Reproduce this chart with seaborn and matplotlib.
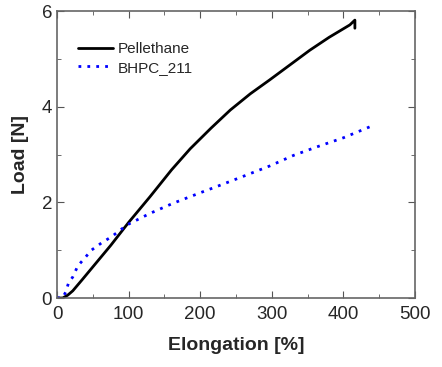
import numpy as np
import pandas as pd
import seaborn as sns
import matplotlib.pyplot as plt
from matplotlib.ticker import MultipleLocator

# data
pel_x = [0, 8, 15, 22, 35, 50, 75, 100, 130, 160, 186, 215, 242, 270, 297, 325, 353, 380, 409, 416, 416]
pel_y = [0, 0, 0.06, 0.15, 0.38, 0.65, 1.1, 1.58, 2.12, 2.68, 3.12, 3.55, 3.93, 4.27, 4.56, 4.87, 5.18, 5.45, 5.71, 5.81, 5.64]
bhpc_x = [0, 8, 12, 16, 22, 29, 39, 48, 62, 76, 98, 130, 162, 200, 230, 256, 297, 330, 363, 400, 437, 442]
bhpc_y = [0, 0.01, 0.12, 0.31, 0.44, 0.67, 0.84, 1.0, 1.15, 1.28, 1.53, 1.77, 1.98, 2.2, 2.37, 2.52, 2.76, 2.98, 3.16, 3.35, 3.58, 3.58]

sns.set_style("ticks")
plt.rcParams['font.family'] = ['Liberation Sans', 'DejaVu Sans']

fig = plt.figure(figsize=(4.42, 3.67), dpi=100)
ax = fig.add_axes([0.129, 0.188, 0.810, 0.782])

sns.lineplot(x=pel_x, y=pel_y, ax=ax, color='black', linewidth=2, sort=False,
             estimator=None, label='Pellethane')
sns.lineplot(x=bhpc_x, y=bhpc_y, ax=ax, color='blue', linewidth=2, linestyle=(0, (1, 2.2)),
             sort=False, estimator=None, label='BHPC_211')

ax.set_xlim(0, 500)
ax.set_ylim(0, 6)
ax.xaxis.set_major_locator(MultipleLocator(100))
ax.xaxis.set_minor_locator(MultipleLocator(50))
ax.yaxis.set_major_locator(MultipleLocator(2))
ax.yaxis.set_minor_locator(MultipleLocator(1))
ax.tick_params(which='both', direction='in', top=True, right=True, labelsize=13.5, color='#555555')
ax.tick_params(axis='x', pad=6)
ax.tick_params(which='major', length=5)
ax.tick_params(which='minor', length=3)
for s in ax.spines.values():
    s.set_color('#666666')
    s.set_linewidth(1.2)

ax.set_xlabel('Elongation [%]', fontsize=14, fontweight='bold', labelpad=10)
ax.set_ylabel('Load [N]', fontsize=14, fontweight='bold', labelpad=9)
ax.legend(loc='upper left', frameon=False, fontsize=11, handlelength=2.3, handletextpad=0.3,
          bbox_to_anchor=(0.02, 0.94), labelspacing=0.3)

fig.savefig('out.png', dpi=100)
